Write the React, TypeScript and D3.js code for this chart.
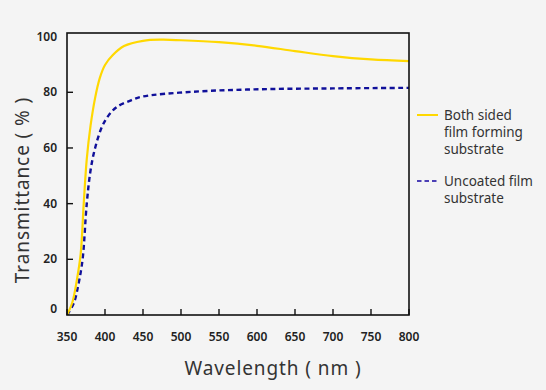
import React, { useEffect, useRef } from 'react';
import * as d3 from 'd3';

// Both sided film forming substrate (yellow)
const coatedWl = [350, 357, 363, 368, 372, 376, 381, 387, 393, 400, 410, 425, 450, 475, 500, 550, 600, 650, 700, 750, 800];
const coatedT = [0, 4.5, 12.6, 22, 40, 56, 68, 78, 85, 89.8, 93.3, 96.6, 98.5, 98.9, 98.7, 98, 96.7, 94.8, 93.0, 91.8, 91.2];

// Uncoated film substrate (blue dashed)
const uncoatedWl = [350, 359, 365, 370.5, 376, 381, 387, 396, 405, 416, 435, 450, 516, 604, 700, 800];
const uncoatedT = [0, 4.3, 11, 20, 40, 52, 60, 67.6, 71.8, 74.8, 77.2, 78.5, 80.2, 81.1, 81.4, 81.6];

const xTicks = [350, 400, 450, 500, 550, 600, 650, 700, 750, 800];
const yTicks = [0, 20, 40, 60, 80, 100];

const App: React.FC = () => {
  const svgRef = useRef<SVGSVGElement | null>(null);

  useEffect(() => {
    const svg = d3.select(svgRef.current);
    svg.selectAll('*').remove();

    const left = 67, right = 409, top = 33, bottom = 315;
    const x = d3.scaleLinear().domain([350, 800]).range([left, right]);
    const y = d3.scaleLinear().domain([0, 101.3]).range([bottom, top]);

    svg.append('rect').attr('width', 546).attr('height', 390).attr('fill', '#f4f4f4');

    const line = d3
      .line<[number, number]>()
      .x(d => x(d[0]))
      .y(d => y(d[1]))
      .curve(d3.curveCatmullRom.alpha(0.5));

    const clip = svg.append('clipPath').attr('id', 'plotclip');
    clip.append('rect').attr('x', left).attr('y', top).attr('width', right - left).attr('height', bottom - top);

    const plot = svg.append('g').attr('clip-path', 'url(#plotclip)');

    plot
      .append('path')
      .datum(uncoatedWl.map((w, i) => [w, uncoatedT[i]] as [number, number]))
      .attr('fill', 'none')
      .attr('stroke', '#10109a')
      .attr('stroke-width', 2.4)
      .attr('stroke-dasharray', '5,3.5')
      .attr('d', line);

    plot
      .append('path')
      .datum(coatedWl.map((w, i) => [w, coatedT[i]] as [number, number]))
      .attr('fill', 'none')
      .attr('stroke', '#ffd800')
      .attr('stroke-width', 2.2)
      .attr('d', line);

    // frame
    svg
      .append('rect')
      .attr('x', left)
      .attr('y', top)
      .attr('width', right - left)
      .attr('height', bottom - top)
      .attr('fill', 'none')
      .attr('stroke', '#111')
      .attr('stroke-width', 1.6);

    // x ticks (inward)
    const xg = svg.append('g');
    xTicks.forEach(t => {
      xg.append('line')
        .attr('x1', x(t)).attr('x2', x(t))
        .attr('y1', bottom).attr('y2', bottom - 6)
        .attr('stroke', '#111').attr('stroke-width', 1.4);
      xg.append('text')
        .attr('x', x(t))
        .attr('y', 341)
        .attr('text-anchor', 'middle')
        .attr('font-family', 'Noto Sans, sans-serif')
        .attr('font-weight', 600)
        .attr('font-size', 12)
        .attr('fill', '#222')
        .text(t);
    });

    // y ticks (inward)
    const yg = svg.append('g');
    yTicks.forEach(t => {
      if (t > 0 && t < 100) {
        yg.append('line')
          .attr('x1', left).attr('x2', left + 6)
          .attr('y1', y(t)).attr('y2', y(t))
          .attr('stroke', '#111').attr('stroke-width', 1.4);
      }
      yg.append('text')
        .attr('x', 57)
        .attr('y', t === 100 ? 41 : t === 0 ? 313 : y(t) + 4)
        .attr('text-anchor', 'end')
        .attr('font-family', 'Noto Sans, sans-serif')
        .attr('font-weight', 600)
        .attr('font-size', 12)
        .attr('fill', '#222')
        .text(t);
    });

    // axis titles
    svg
      .append('text')
      .attr('x', 273)
      .attr('y', 375)
      .attr('text-anchor', 'middle')
      .attr('font-family', 'Noto Sans, sans-serif')
      .attr('font-size', 19)
      .attr('letter-spacing', 0.9)
      .attr('fill', '#333')
      .text('Wavelength ( nm )');

    svg
      .append('text')
      .attr('transform', 'translate(29,190) rotate(-90)')
      .attr('text-anchor', 'middle')
      .attr('font-family', 'Noto Sans, sans-serif')
      .attr('font-size', 19)
      .attr('letter-spacing', 0.9)
      .attr('fill', '#333')
      .text('Transmittance ( % )');

    // legend
    const lg = svg.append('g');
    lg.append('line')
      .attr('x1', 417).attr('x2', 438).attr('y1', 115).attr('y2', 115)
      .attr('stroke', '#ffd800').attr('stroke-width', 2);
    lg.append('line')
      .attr('x1', 417).attr('x2', 438).attr('y1', 181).attr('y2', 181)
      .attr('stroke', '#4b3fb5').attr('stroke-width', 2).attr('stroke-dasharray', '4.5,3');

    const legendText = (lines: string[], y0: number) => {
      lines.forEach((s, i) => {
        lg.append('text')
          .attr('x', 444)
          .attr('y', y0 + i * 17)
          .attr('font-family', 'Noto Sans, sans-serif')
          .attr('font-size', 13.5)
          .attr('fill', '#333')
          .text(s);
      });
    };
    legendText(['Both sided', 'film forming', 'substrate'], 120);
    legendText(['Uncoated film', 'substrate'], 186);
  }, []);

  return <svg ref={svgRef} width={546} height={390} style={{ position: 'absolute', left: 0, top: 0 }} />;
};

export default App;
